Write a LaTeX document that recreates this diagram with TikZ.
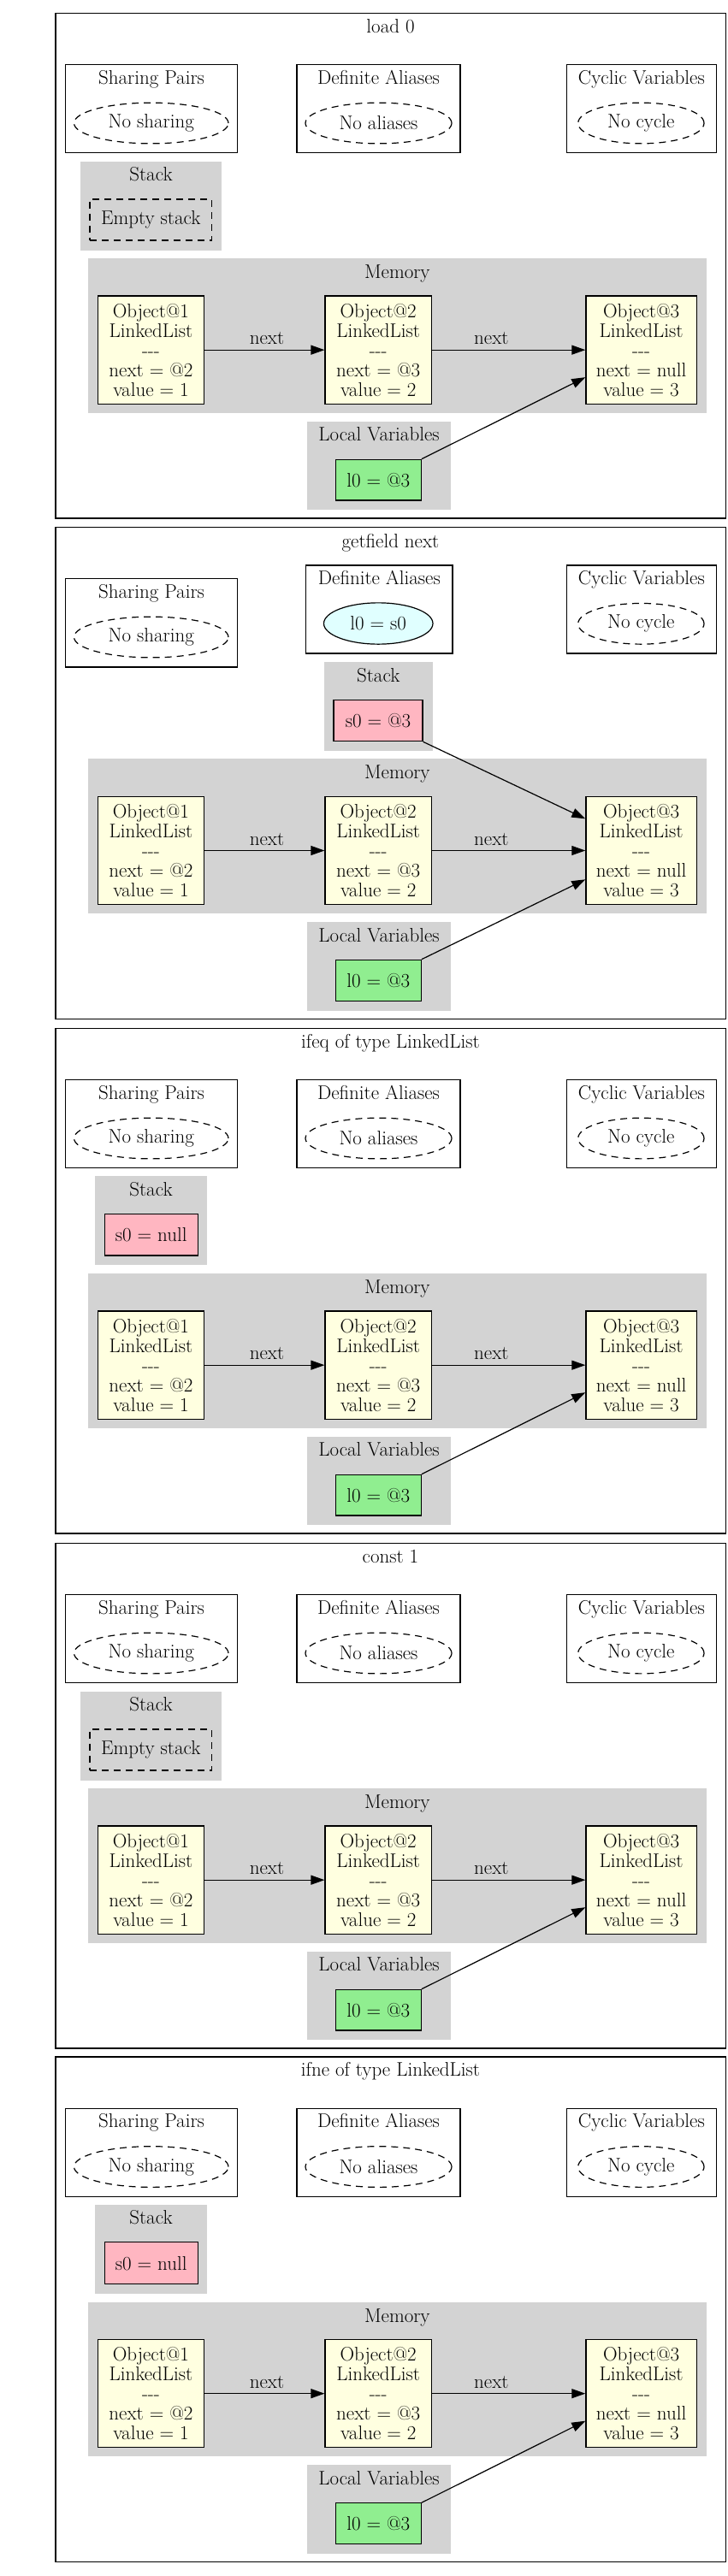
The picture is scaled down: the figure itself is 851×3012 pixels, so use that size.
\documentclass[tikz,border=0pt]{standalone}
\usetikzlibrary{arrows.meta,shapes.geometric}
\definecolor{clgray}{HTML}{D3D3D3}
\definecolor{objyellow}{HTML}{FFFFE0}
\definecolor{locgreen}{HTML}{90EE90}
\definecolor{stkpink}{HTML}{FFB6C1}
\definecolor{aliascyan}{HTML}{E0FFFF}
\newcommand{\diafont}{\fontsize{23}{23}\selectfont}
\tikzset{
  every node/.style={font=\diafont},
  lbl/.style={inner sep=0pt, text height=15.5pt, text depth=4.5pt},
  panelbox/.style={draw=black, line width=1.5pt, rectangle, inner sep=0pt},
  box/.style={draw=black, line width=1.2pt, rectangle, inner sep=0pt},
  cluster/.style={fill=clgray, rectangle, inner sep=0pt},
  dashell/.style={draw=black, ellipse, line width=1.2pt, inner sep=0pt, dash pattern=on 8pt off 6pt},
  aliasell/.style={draw=black, fill=aliascyan, ellipse, line width=1.2pt, inner sep=0pt},
  dashbox/.style={draw=black, rectangle, line width=1.2pt, inner sep=0pt, dash pattern=on 8pt off 6pt},
  objbox/.style={draw=black, fill=objyellow, line width=1.2pt, rectangle, inner sep=0pt, align=center},
  locbox/.style={draw=black, fill=locgreen, line width=1.2pt, rectangle, inner sep=0pt},
  stkbox/.style={draw=black, fill=stkpink, line width=1.2pt, rectangle, inner sep=0pt},
  arr/.style={-{Triangle[length=16pt,width=11pt]}, line width=1.2pt},
}
% panel without stack; #1 prefix, #2 top, #3 title
\newcommand{\StdPanel}[3]{%
\begin{scope}[shift={(0,#2)}]
\node[panelbox, minimum width=783.5pt, minimum height=590.3pt] (#1panel) at (456.75,295.15) {};
\node[lbl] (#1title) at (456.5,17) {#3};
\node[box, minimum width=201.3pt, minimum height=103pt] (#1sp) at (177,111.5) {};
\node[lbl] (#1spl) at (177,77) {Sharing Pairs};
\node[dashell, minimum width=180.5pt, minimum height=47.7pt] (#1spe) at (176.75,128.3) {No sharing};
\node[box, minimum width=191pt, minimum height=103pt] (#1da) at (442.5,111.5) {};
\node[lbl] (#1dal) at (442.5,77) {Definite Aliases};
\node[dashell, minimum width=171pt, minimum height=47.7pt] (#1dae) at (442.5,128.3) {No aliases};
\node[box, minimum width=174.9pt, minimum height=103pt] (#1cv) at (749.85,111.5) {};
\node[lbl] (#1cvl) at (749.85,77) {Cyclic Variables};
\node[dashell, minimum width=147.3pt, minimum height=47.7pt] (#1cve) at (749.35,128.3) {No cycle};
\node[cluster, minimum width=722.2pt, minimum height=180.7pt] (#1mem) at (464.4,376.65) {};
\node[lbl] (#1meml) at (464.4,304.3) {Memory};
\node[objbox, minimum width=123.9pt, minimum height=126.3pt] (#1o1) at (176.45,393.45) {Object@1\\LinkedList\\-{}-{}-\\next = @2\\value = 1};
\node[objbox, minimum width=124.4pt, minimum height=126.3pt] (#1o2) at (442.2,393.45) {Object@2\\LinkedList\\-{}-{}-\\next = @3\\value = 2};
\node[objbox, minimum width=129.4pt, minimum height=126.3pt] (#1o3) at (749.6,393.45) {Object@3\\LinkedList\\-{}-{}-\\next = null\\value = 3};
\node[cluster, minimum width=168pt, minimum height=103.3pt] (#1loc) at (443,528.65) {};
\node[lbl] (#1locl) at (443,494.3) {Local Variables};
\node[locbox, minimum width=100pt, minimum height=47.7pt] (#1l0) at (442.25,545.45) {l0 = @3};
\draw[arr] (#1o1) -- node[lbl, pos=0.52, yshift=12pt] {next} (#1o2);
\draw[arr] (#1o2) -- node[lbl, pos=0.387, yshift=12pt] {next} (#1o3);
\draw[arr] (#1l0.north east) -- ([yshift=-32pt]#1o3.west);
\end{scope}}
\newcommand{\EmptyStack}[2]{%
\begin{scope}[shift={(0,#2)}]
\node[cluster, minimum width=165pt, minimum height=104pt] (#1stk) at (176.5,225) {};
\node[lbl] (#1stkl) at (176.5,190.3) {Stack};
\node[dashbox, minimum width=142.6pt, minimum height=48pt] (#1s0) at (176.3,241.3) {Empty stack};
\end{scope}}
\newcommand{\NullStack}[2]{%
\begin{scope}[shift={(0,#2)}]
\node[cluster, minimum width=131pt, minimum height=104pt] (#1stk) at (176.5,224.3) {};
\node[lbl] (#1stkl) at (176.5,190) {Stack};
\node[stkbox, minimum width=109pt, minimum height=48.7pt] (#1s0) at (176.75,241) {s0 = null};
\end{scope}}
\begin{document}
\begin{tikzpicture}[x=1pt,y=-1pt]
\useasboundingbox (0,0) rectangle (851,3012);
\fill[white] (0,0) rectangle (851,3012);
% panel 1
\StdPanel{a}{15.7}{load 0}
\EmptyStack{a}{15.7}
% panel 2
\node[panelbox, minimum width=783.5pt, minimum height=575pt] (bpanel) at (456.75,904.2) {};
\node[lbl] (btitle) at (456.5,635) {getfield next};
\node[box, minimum width=201.3pt, minimum height=103.3pt] (bsp) at (177,728.35) {};
\node[lbl] (bspl) at (177,694) {Sharing Pairs};
\node[dashell, minimum width=180.5pt, minimum height=47.7pt] (bspe) at (176.75,745) {No sharing};
\node[box, minimum width=171.3pt, minimum height=103pt] (bda) at (443.35,712.5) {};
\node[lbl] (bdal) at (443.35,678.3) {Definite Aliases};
\node[aliasell, minimum width=127.5pt, minimum height=48.3pt] (bdae) at (442.25,729) {l0 = s0};
\node[box, minimum width=174.9pt, minimum height=103pt] (bcv) at (749.85,712.5) {};
\node[lbl] (bcvl) at (749.85,678.3) {Cyclic Variables};
\node[dashell, minimum width=147.3pt, minimum height=47.7pt] (bcve) at (749.35,729.3) {No cycle};
\node[cluster, minimum width=126.5pt, minimum height=103.7pt] (bstk) at (442.25,825.85) {};
\node[lbl] (bstkl) at (442.25,791.7) {Stack};
\node[stkbox, minimum width=104pt, minimum height=48.4pt] (bs0) at (442,842.5) {s0 = @3};
\node[cluster, minimum width=722.2pt, minimum height=181pt] (bmem) at (464.4,977.8) {};
\node[lbl] (bmeml) at (464.4,905) {Memory};
\node[objbox, minimum width=123.9pt, minimum height=125.6pt] (bo1) at (176.45,994.5) {Object@1\\LinkedList\\-{}-{}-\\next = @2\\value = 1};
\node[objbox, minimum width=124.4pt, minimum height=125.6pt] (bo2) at (442.2,994.5) {Object@2\\LinkedList\\-{}-{}-\\next = @3\\value = 2};
\node[objbox, minimum width=129.4pt, minimum height=125.6pt] (bo3) at (749.6,994.5) {Object@3\\LinkedList\\-{}-{}-\\next = null\\value = 3};
\node[cluster, minimum width=168pt, minimum height=103.4pt] (bloc) at (443,1130) {};
\node[lbl] (blocl) at (443,1095.7) {Local Variables};
\node[locbox, minimum width=100pt, minimum height=48.4pt] (bl0) at (442.25,1146.5) {l0 = @3};
\draw[arr] (bo1) -- node[lbl, pos=0.52, yshift=12pt] {next} (bo2);
\draw[arr] (bo2) -- node[lbl, pos=0.387, yshift=12pt] {next} (bo3);
\draw[arr] (bs0.south east) -- ([yshift=37.2pt]bo3.west);
\draw[arr] (bl0.north east) -- ([yshift=-33.8pt]bo3.west);
% panel 3
\StdPanel{c}{1202.7}{ifeq of type LinkedList}
\NullStack{c}{1202.7}
% panel 4
\StdPanel{d}{1804.7}{const 1}
\EmptyStack{d}{1804.7}
% panel 5
\StdPanel{e}{2405.2}{ifne of type LinkedList}
\NullStack{e}{2405.2}
\end{tikzpicture}
\end{document}
